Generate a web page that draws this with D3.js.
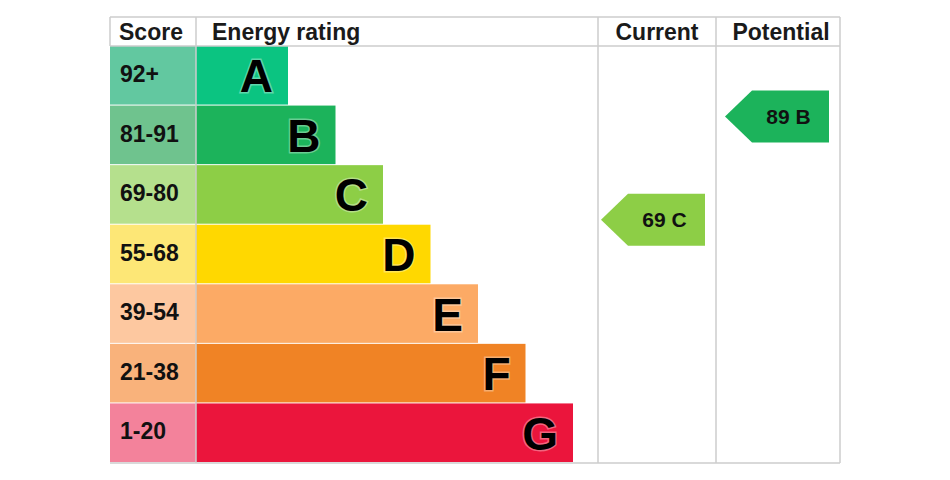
<!DOCTYPE html>
<html>
<head>
<meta charset="utf-8">
<script src="https://cdn.jsdelivr.net/npm/d3@7"></script>
<style>
  body { margin: 0; background: #fff; }
  svg { display: block; font-family: "Liberation Sans", Arial, sans-serif; }
</style>
</head>
<body>
<div id="chart"></div>
<script>
// Data
const bands = ["A", "B", "C", "D", "E", "F", "G"];
const scoreLabels = ["92+", "81-91", "69-80", "55-68", "39-54", "21-38", "1-20"];
const bandMax = [100, 91, 80, 68, 54, 38, 20];
const bandMin = 0;
const barColors = ["#0bc481", "#1cb35b", "#8dce46", "#ffd800", "#fcaa65", "#f08325", "#eb153c"];
const cellColors = ["#62c8a0", "#6fc38e", "#b5e08d", "#fde776", "#fdc8a0", "#f9b27b", "#f3829b"];
const headers = ["Score", "Energy rating", "Current", "Potential"];
const ratings = [
  { column: "Current", score: 69, band: "C" },
  { column: "Potential", score: 89, band: "B" },
];

const width = 950, height = 480;
const tblLeft = 110, tblTop = 17, headerH = 29, tblRight = 840, tblBottom = 463;
const colEdges = [110, 196, 598, 716, 840];
const lineColor = "#cdcdcd";

const svg = d3.select("#chart").append("svg")
  .attr("width", width)
  .attr("height", height);

// Row scale for bands
const y = d3.scaleBand()
  .domain(bands)
  .range([tblTop + headerH, tblBottom])
  .paddingInner(0);

// Bar right end grows with band index
const barEnd = d3.scaleLinear()
  .domain([0, bands.length - 1])
  .range([288, 573]);

// Score -> vertical position (piecewise, each band's top edge = its max score)
const scoreY = d3.scaleLinear()
  .domain(bandMax.concat([bandMin]))
  .range(bands.map((b) => y(b)).concat([tblBottom]));

const col = d3.scaleOrdinal()
  .domain(headers)
  .range(headers.map((h, i) => [colEdges[i], colEdges[i + 1]]));

// Score cells
svg.append("g")
  .selectAll("rect")
  .data(bands)
  .join("rect")
  .attr("x", colEdges[0])
  .attr("y", (d) => y(d))
  .attr("width", colEdges[1] - colEdges[0])
  .attr("height", y.bandwidth() - 1)
  .attr("fill", (d, i) => cellColors[i]);

svg.append("g")
  .selectAll("text")
  .data(scoreLabels)
  .join("text")
  .attr("x", colEdges[0] + 10)
  .attr("y", (d, i) => y(bands[i]) + y.bandwidth() / 2)
  .attr("dy", "0.27em")
  .attr("font-size", 23)
  .attr("font-weight", "bold")
  .attr("fill", "#111")
  .text((d) => d);

// Rating bars
svg.append("g")
  .selectAll("rect")
  .data(bands)
  .join("rect")
  .attr("x", colEdges[1])
  .attr("y", (d) => y(d))
  .attr("width", (d, i) => barEnd(i) - colEdges[1])
  .attr("height", y.bandwidth() - 1)
  .attr("fill", (d, i) => barColors[i]);

svg.append("g")
  .selectAll("text")
  .data(bands)
  .join("text")
  .attr("x", (d, i) => barEnd(i) - 15)
  .attr("y", (d) => y(d) + y.bandwidth() / 2)
  .attr("dy", "0.36em")
  .attr("text-anchor", "end")
  .attr("font-size", 46)
  .attr("font-weight", "bold")
  .attr("fill", "#000")
  .attr("stroke", "rgba(255,255,255,0.35)")
  .attr("stroke-width", 3)
  .attr("paint-order", "stroke")
  .text((d) => d);

// Grid lines
const grid = svg.append("g")
  .attr("stroke", lineColor)
  .attr("stroke-width", 1.5);
grid.selectAll("line.v")
  .data(colEdges.slice(1))
  .join("line")
  .attr("class", "v")
  .attr("x1", (d) => d).attr("x2", (d) => d)
  .attr("y1", tblTop).attr("y2", tblBottom);
grid.selectAll("line.h")
  .data([tblTop, tblTop + headerH, tblBottom])
  .join("line")
  .attr("class", "h")
  .attr("x1", tblLeft).attr("x2", tblRight)
  .attr("y1", (d) => d).attr("y2", (d) => d);
grid.append("line")
  .attr("x1", tblLeft).attr("x2", tblLeft)
  .attr("y1", tblTop).attr("y2", tblTop + headerH);

// Headers
svg.append("g")
  .selectAll("text")
  .data(headers)
  .join("text")
  .attr("x", (d, i) => i < 2 ? col(d)[0] + (i === 0 ? 9 : 16) : (col(d)[0] + col(d)[1]) / 2 + (i === 3 ? 3 : 0))
  .attr("y", tblTop + headerH / 2)
  .attr("dy", "0.36em")
  .attr("text-anchor", (d, i) => i < 2 ? "start" : "middle")
  .attr("font-size", 23)
  .attr("font-weight", "bold")
  .attr("fill", "#1a1a1a")
  .text((d) => d);

// Arrows for current / potential
const arrowW = 104, arrowH = 52, tipW = 27;
const arrow = svg.append("g")
  .selectAll("g")
  .data(ratings)
  .join("g")
  .attr("transform", (d) => {
    const x1 = col(d.column)[1] - 11;
    return `translate(${x1 - arrowW},${scoreY(d.score)})`;
  });

arrow.append("path")
  .attr("d", d3.line()([
    [0, 0], [tipW, -arrowH / 2], [arrowW, -arrowH / 2],
    [arrowW, arrowH / 2], [tipW, arrowH / 2],
  ]) + "Z")
  .attr("fill", (d) => barColors[bands.indexOf(d.band)]);

arrow.append("text")
  .attr("x", (tipW + arrowW) / 2 - 2)
  .attr("dy", "0.36em")
  .attr("text-anchor", "middle")
  .attr("font-size", 21)
  .attr("font-weight", "bold")
  .attr("fill", "#111")
  .text((d) => `${d.score} ${d.band}`);
</script>
</body>
</html>
